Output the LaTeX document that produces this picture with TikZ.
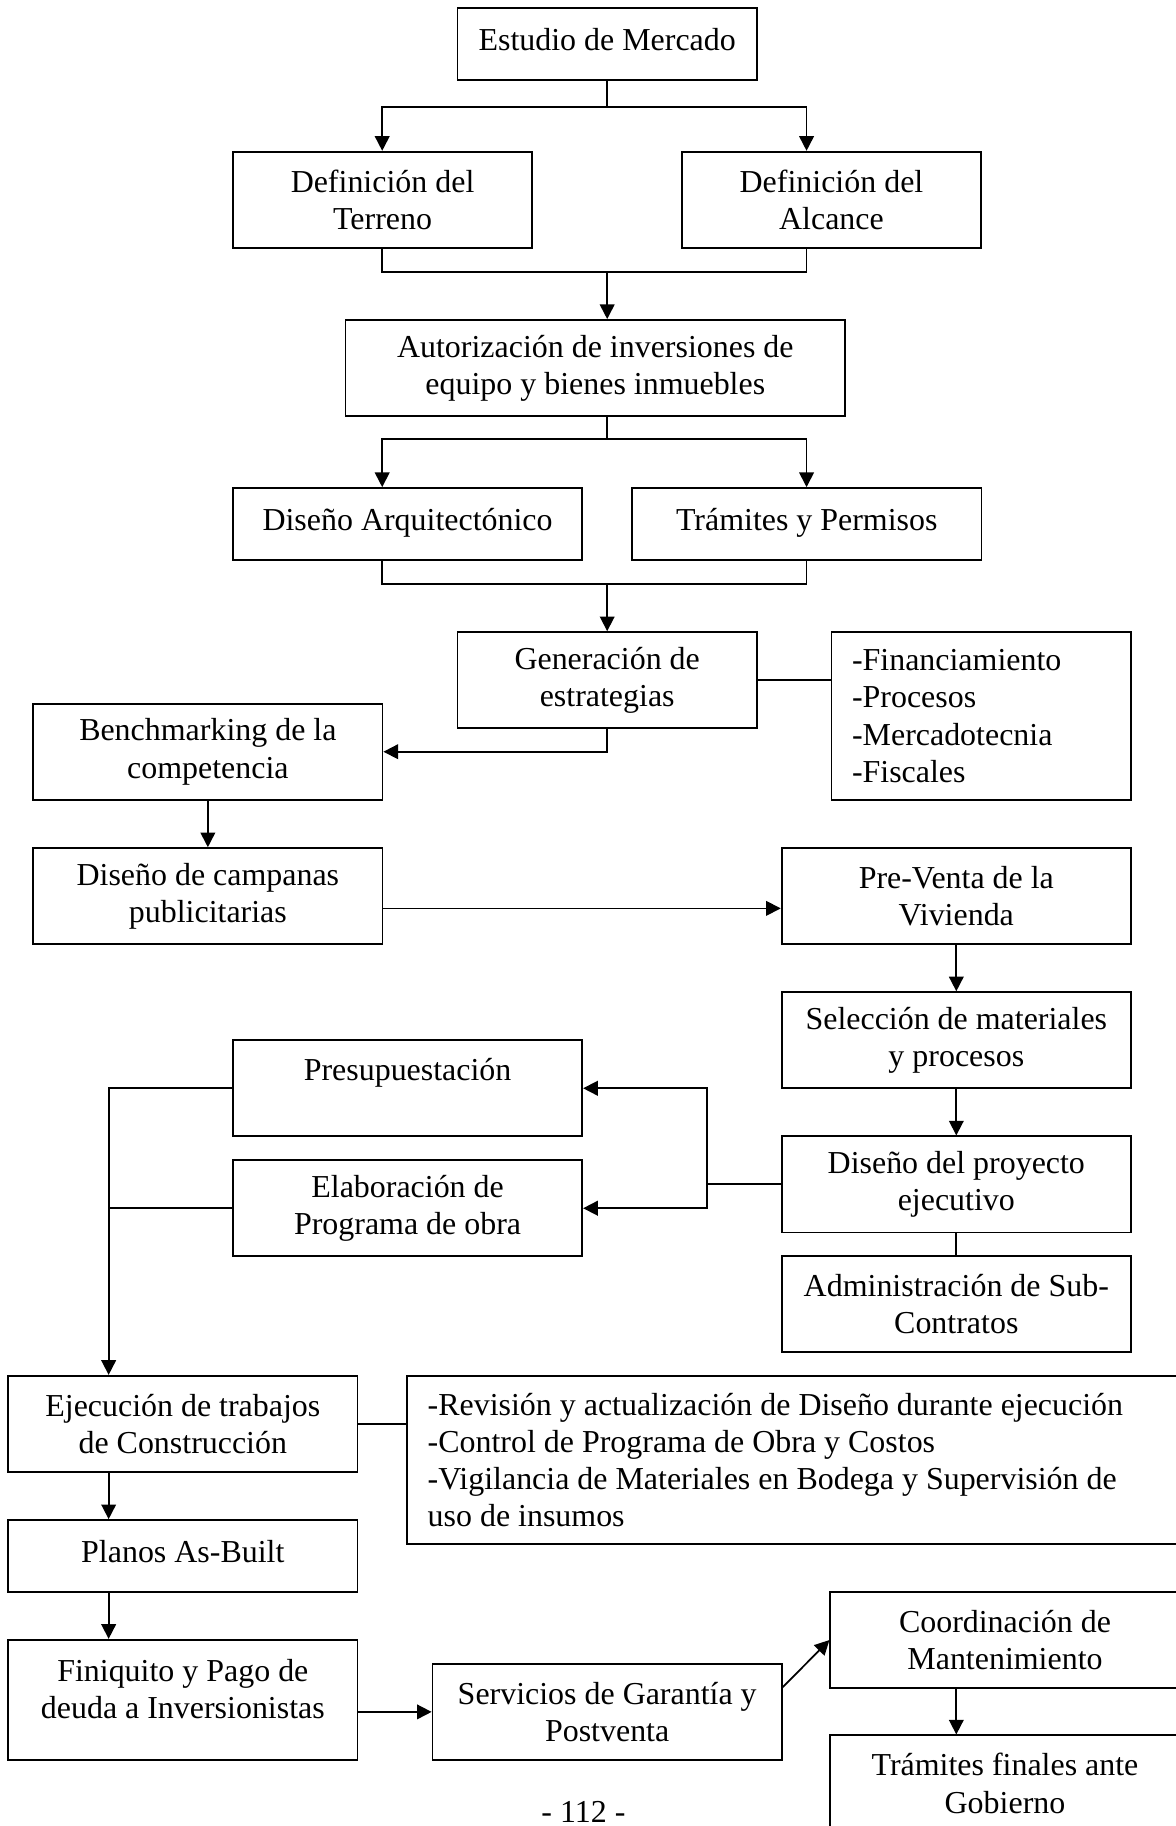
\documentclass[tikz,border=0pt]{standalone}
\usepackage{fontspec}
\setmainfont{Liberation Serif}
\usetikzlibrary{arrows.meta}

\tikzstyle{base}=[rectangle,
                    draw=black,
                    line width=0.65pt,
                    inner sep=2pt,
                    align=center,
                    font=\fontsize{12}{14}\selectfont]
\tikzstyle{narrow}=[base, minimum width=112.5pt]
\tikzstyle{wide}=[base, minimum width=131.25pt]
\tikzstyle{oneline}=[minimum height=27.1pt, text height=9pt, text depth=4pt]
\tikzstyle{twoline}=[minimum height=36.1pt]
\tikzstyle{listbox}=[base, align=flush left, inner xsep=7.7pt]
\tikzstyle{joint}=[line width=0.65pt]
\tikzstyle{link}=[joint, -{Triangle[length=5.5pt,width=5.5pt]}]

\begin{document}
\begin{tikzpicture}[x=0.4375pt, y=-0.4375pt]
    \useasboundingbox (0,0) rectangle (1009,1568);

    \node at (521.4,   38.0) (estudio)     [narrow, oneline]       {Estudio de Mercado};
    \node at (328.5,  171.5) (terreno)     [narrow, twoline]       {Definición del\\Terreno};
    \node at (714.0,  171.5) (alcance)     [narrow, twoline]       {Definición del\\Alcance};
    \node at (511.2,  316.0) (autoriza)    [base, twoline, minimum width=187.7pt] {Autorización de inversiones de\\equipo y bienes inmuebles};
    \node at (350.0,  450.0) (arquitec)    [wide, oneline]         {Diseño Arquitectónico};
    \node at (692.8,  450.0) (tramites)    [wide, oneline]         {Trámites y Permisos};
    \node at (521.4,  584.0) (estrateg)    [narrow, twoline]       {Generación de\\estrategias};
    \node at (842.5,  615.0) (rubros)      [listbox, text width=97pt, minimum height=63.2pt] {-Financiamiento\\-Procesos\\-Mercadotecnia\\-Fiscales};
    \node at (178.5,  645.5) (benchmark)   [wide, twoline]         {Benchmarking de la\\competencia};
    \node at (178.5,  769.5) (campanas)    [wide, twoline]         {Diseño de campanas\\publicitarias};
    \node at (821.2,  769.5) (preventa)    [wide, twoline]         {Pre-Venta de la\\Vivienda};
    \node at (821.2,  893.2) (materiales)  [wide, twoline]         {Selección de materiales\\y procesos};
    \node at (821.2, 1017.0) (ejecutivo)   [wide, twoline]         {Diseño del proyecto\\ejecutivo};
    \node at (821.2, 1120.0) (subcontr)    [wide, twoline]         {Administración de Sub-\\Contratos};
    \node at (350.0,  934.5) (presupuesto) [wide, twoline]         {Presupuestación\\\mbox{}};
    \node at (350.0, 1037.5) (programa)    [wide, twoline]         {Elaboración de\\Programa de obra};
    \node at (157.0, 1222.6) (construye)   [wide, twoline]         {Ejecución de trabajos\\de Construcción};
    \node at (694.8, 1253.7) (control)     [listbox, text width=286.6pt, minimum height=63.3pt] {-Revisión y actualización de Diseño durante ejecución\\-Control de Programa de Obra y Costos\\-Vigilancia de Materiales en Bodega y Supervisión de\\uso de insumos};
    \node at (157.0, 1336.2) (asbuilt)     [wide, oneline]         {Planos As-Built};
    \node at (157.0, 1459.8) (finiquito)   [wide, minimum height=45.3pt] {Finiquito y Pago de\\deuda a Inversionistas\\[-5.6pt]\mbox{}};
    \node at (521.4, 1470.0) (garantia)    [wide, twoline]         {Servicios de Garantía y\\Postventa};
    \node at (863.0, 1408.3) (mantenim)    [wide, twoline]         {Coordinación de\\Mantenimiento};
    \node at (863.0, 1531.4) (gobierno)    [wide, twoline]         {Trámites finales ante\\Gobierno};
    \node at (501.0, 1555.5) (pagina)      [inner sep=0pt, font=\fontsize{12}{14}\selectfont] {- 112 -};

    % junction points
    \coordinate (colL)   at (328.2,    0);
    \coordinate (colR)   at (692.6,    0);
    \coordinate (colE)   at ( 93.3,    0);
    \coordinate (split1) at (521.4,  92.0);
    \coordinate (merge1) at (521.4, 233.7);
    \coordinate (split2) at (521.4, 377.0);
    \coordinate (merge2) at (521.4, 501.5);
    \coordinate (fork)   at (607.0,1017.0);

    \draw[joint] (estudio)               -- (split1);
    \draw[link]  (split1)                -| (terreno.north -| colL);
    \draw[link]  (split1)                -| (alcance.north -| colR);
    \draw[joint] (terreno.south -| colL) |- (merge1) -| (alcance.south -| colR);
    \draw[link]  (merge1)                -- (autoriza.north -| merge1);
    \draw[joint] (autoriza.south -| split2) -- (split2);
    \draw[link]  (split2)                -| (arquitec.north -| colL);
    \draw[link]  (split2)                -| (tramites.north -| colR);
    \draw[joint] (arquitec.south -| colL) |- (merge2) -| (tramites.south -| colR);
    \draw[link]  (merge2)                -- (estrateg);
    \draw[joint] (estrateg.east)         -- (estrateg.east -| rubros.west);
    \draw[link]  (estrateg.south)        |- (benchmark);
    \draw[link]  (benchmark)             -- (campanas);
    \draw[link]  ([yshift=-4.6pt]campanas.east) -- ([yshift=-4.6pt]preventa.west);
    \draw[link]  (preventa)              -- (materiales);
    \draw[link]  (materiales)            -- (ejecutivo);
    \draw[joint] (ejecutivo)             -- (subcontr);
    \draw[joint] (ejecutivo)             -- (fork);
    \draw[link]  (fork)                  |- (presupuesto);
    \draw[link]  (fork)                  |- (programa);
    \draw[link]  (presupuesto)           -| (construye.north -| colE);
    \draw[joint] (programa.west)         -- (programa.west -| colE);
    \draw[joint] (construye.east)        -- (construye.east -| control.west);
    \draw[link]  (construye.south -| colE) -- (asbuilt.north -| colE);
    \draw[link]  (asbuilt.south -| colE)   -- (finiquito.north -| colE);
    \draw[link]  (finiquito.east |- garantia) -- (garantia);
    \draw[link]  (garantia.8)            -- (mantenim.west);
    \draw[link]  (mantenim.south -| ejecutivo) -- (gobierno.north -| ejecutivo);
\end{tikzpicture}
\end{document}
